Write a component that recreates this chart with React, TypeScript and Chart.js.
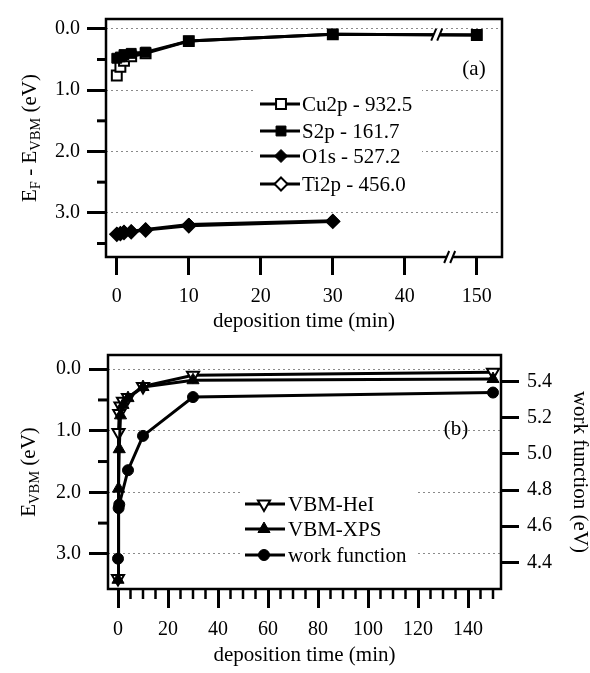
import React, { useEffect, useRef } from 'react';
import { Chart, registerables } from 'chart.js';

Chart.register(...registerables);

const FONT_FAMILY = "'Liberation Serif', 'Times New Roman', Times, serif";

// ---------- Panel (a) data ----------
const timeCu2p = [0, 0.5, 1, 2, 4, 10, 30, 150];
const cu2p = [0.76, 0.62, 0.52, 0.45, 0.4, 0.2, 0.09, 0.1];
const timeS2p = [0, 0.5, 1, 2, 4, 10, 30, 150];
const s2p = [0.48, 0.46, 0.42, 0.4, 0.38, 0.2, 0.09, 0.1];
const timeO1s = [0, 0.5, 1, 2, 4, 10, 30];
const o1s = [3.34, 3.33, 3.31, 3.3, 3.27, 3.19, 3.13];
const timeTi2p = [0, 0.5, 1, 2, 4, 10, 30];
const ti2p = [3.35, 3.34, 3.32, 3.31, 3.28, 3.21, 3.14];
const xTicksA = [0, 10, 20, 30, 40, 150];
const yTicksA = [0, 1, 2, 3];
const yMinorA = [0.5, 1.5, 2.5, 3.5];
const legendLabelsA = ['Cu2p - 932.5', 'S2p - 161.7', 'O1s - 527.2', 'Ti2p - 456.0'];
const breakAbove = 45; // times above this are drawn after the axis break
const breakGap = 100; // minutes skipped by the axis break

// ---------- Panel (b) data ----------
const timeHeI = [0, 0.2, 0.5, 1, 2, 4, 10, 30, 150];
const vbmHeI = [3.4, 1.03, 0.72, 0.6, 0.52, 0.46, 0.28, 0.1, 0.05];
const timeXPS = [0, 0.2, 0.5, 1, 2, 4, 10, 30, 150];
const vbmXPS = [3.42, 1.94, 1.3, 0.75, 0.58, 0.47, 0.29, 0.18, 0.16];
const timeWF = [0, 0.25, 0.5, 4, 10, 30, 150];
const workFunction = [4.42, 4.7, 4.72, 4.91, 5.1, 5.315, 5.34];
const xTicksB = [0, 20, 40, 60, 80, 100, 120, 140];
const xMinorB = [5, 10, 15, 25, 30, 35, 45, 50, 55, 65, 70, 75, 85, 90, 95, 105, 110, 115, 125, 130, 135, 145, 150];
const yTicksB = [0, 1, 2, 3];
const yMinorB = [0.5, 1.5, 2.5];
const y2TicksB = [4.4, 4.6, 4.8, 5.0, 5.2, 5.4];
const legendLabelsB = ['VBM-HeI', 'VBM-XPS', 'work function'];

type Mk = { shape: string; r: number; filled: boolean; rot?: number };

const MK_CU: Mk = { shape: 'rect', r: 7, filled: false };
const MK_S: Mk = { shape: 'rect', r: 7, filled: true };
const MK_O: Mk = { shape: 'rectRot', r: 6.5, filled: true };
const MK_TI: Mk = { shape: 'rectRot', r: 6.5, filled: false };
const MK_HEI: Mk = { shape: 'triangle', r: 7, filled: false, rot: 180 };
const MK_XPS: Mk = { shape: 'triangle', r: 7, filled: true };
const MK_WF: Mk = { shape: 'circle', r: 5.5, filled: true };

const mapA = (t: number) => (t > breakAbove ? t - breakGap : t);

function pts(times: number[], vals: number[], map: (t: number) => number = (t) => t) {
  return times.map((t, i) => ({ x: map(t), y: vals[i] }));
}

function ds(label: string, data: any[], mk: Mk, extra: any = {}) {
  return {
    label,
    data,
    borderColor: '#000',
    borderWidth: 3,
    tension: 0,
    pointStyle: mk.shape,
    pointRadius: mk.r,
    pointHoverRadius: mk.r,
    pointRotation: mk.rot || 0,
    pointBackgroundColor: mk.filled ? '#000' : '#fff',
    pointBorderColor: '#000',
    pointBorderWidth: mk.filled ? 1 : 2,
    ...extra,
  };
}

function drawMarker(ctx: CanvasRenderingContext2D, mk: Mk, x: number, y: number) {
  const r = mk.r;
  ctx.save();
  ctx.beginPath();
  if (mk.shape === 'rect') {
    const h = r * Math.SQRT1_2;
    ctx.rect(x - h, y - h, 2 * h, 2 * h);
  } else if (mk.shape === 'rectRot') {
    ctx.moveTo(x, y - r);
    ctx.lineTo(x + r, y);
    ctx.lineTo(x, y + r);
    ctx.lineTo(x - r, y);
    ctx.closePath();
  } else if (mk.shape === 'triangle') {
    let a = ((mk.rot || 0) * Math.PI) / 180;
    for (let k = 0; k < 3; k++) {
      const px = x + Math.sin(a) * r;
      const py = y - Math.cos(a) * r;
      if (k === 0) ctx.moveTo(px, py);
      else ctx.lineTo(px, py);
      a += (2 * Math.PI) / 3;
    }
    ctx.closePath();
  } else {
    ctx.arc(x, y, r, 0, Math.PI * 2);
  }
  ctx.fillStyle = mk.filled ? '#000' : '#fff';
  ctx.fill();
  ctx.lineWidth = mk.filled ? 1 : 2;
  ctx.strokeStyle = '#000';
  ctx.stroke();
  ctx.restore();
}

function drawLegend(
  ctx: CanvasRenderingContext2D,
  labels: string[],
  marks: Mk[],
  box: [number, number, number, number],
  x1: number,
  x2: number,
  mx: number,
  tx: number,
  rows: number[]
) {
  ctx.save();
  ctx.fillStyle = '#fff';
  ctx.fillRect(box[0], box[1], box[2], box[3]);
  labels.forEach((lab, i) => {
    const y = rows[i];
    ctx.strokeStyle = '#000';
    ctx.lineWidth = 3;
    ctx.beginPath();
    ctx.moveTo(x1, y);
    ctx.lineTo(x2, y);
    ctx.stroke();
    drawMarker(ctx, marks[i], mx, y);
    ctx.fillStyle = '#000';
    ctx.font = `21px ${FONT_FAMILY}`;
    ctx.textBaseline = 'alphabetic';
    ctx.textAlign = 'left';
    ctx.fillText(lab, tx, y + 7);
  });
  ctx.restore();
}

function drawFrame(chart: any) {
  const { ctx, chartArea: a } = chart;
  ctx.save();
  ctx.strokeStyle = '#000';
  ctx.lineWidth = 2.5;
  ctx.strokeRect(a.left, a.top, a.right - a.left, a.bottom - a.top);
  ctx.restore();
}

function minorY(chart: any, scaleId: string, values: number[], len: number) {
  const s = chart.scales[scaleId];
  const ctx = chart.ctx;
  ctx.save();
  ctx.strokeStyle = '#000';
  ctx.lineWidth = 3;
  values.forEach((v) => {
    const y = s.getPixelForValue(v);
    ctx.beginPath();
    ctx.moveTo(s.right - len, y);
    ctx.lineTo(s.right, y);
    ctx.stroke();
  });
  ctx.restore();
}

function minorX(chart: any, scaleId: string, values: number[], len: number) {
  const s = chart.scales[scaleId];
  const ctx = chart.ctx;
  ctx.save();
  ctx.strokeStyle = '#000';
  ctx.lineWidth = 2.5;
  values.forEach((v) => {
    const x = s.getPixelForValue(v);
    ctx.beginPath();
    ctx.moveTo(x, s.top);
    ctx.lineTo(x, s.top + len);
    ctx.stroke();
  });
  ctx.restore();
}

function drawBreak(ctx: CanvasRenderingContext2D, x: number, y: number) {
  ctx.save();
  ctx.fillStyle = '#fff';
  ctx.beginPath();
  ctx.moveTo(x - 6, y + 6);
  ctx.lineTo(x - 1, y - 6);
  ctx.lineTo(x + 5, y - 6);
  ctx.lineTo(x, y + 6);
  ctx.closePath();
  ctx.fill();
  ctx.strokeStyle = '#000';
  ctx.lineWidth = 2;
  ctx.beginPath();
  ctx.moveTo(x - 6, y + 6);
  ctx.lineTo(x - 1, y - 6);
  ctx.moveTo(x, y + 6);
  ctx.lineTo(x + 5, y - 6);
  ctx.stroke();
  ctx.restore();
}

type Seg = { t: string; sub?: boolean };

function drawRotatedTitle(ctx: CanvasRenderingContext2D, segs: Seg[], cx: number, cy: number) {
  const big = `21px ${FONT_FAMILY}`;
  const small = `14.5px ${FONT_FAMILY}`;
  ctx.save();
  let total = 0;
  segs.forEach((s) => {
    ctx.font = s.sub ? small : big;
    total += ctx.measureText(s.t).width;
  });
  ctx.translate(cx, cy);
  ctx.rotate(-Math.PI / 2);
  ctx.fillStyle = '#000';
  ctx.textBaseline = 'alphabetic';
  ctx.textAlign = 'left';
  let x = -total / 2;
  segs.forEach((s) => {
    ctx.font = s.sub ? small : big;
    ctx.fillText(s.t, x, s.sub ? 11 : 7);
    x += ctx.measureText(s.t).width;
  });
  ctx.restore();
}

function drawText(ctx: CanvasRenderingContext2D, t: string, x: number, y: number) {
  ctx.save();
  ctx.font = `21px ${FONT_FAMILY}`;
  ctx.fillStyle = '#000';
  ctx.textAlign = 'center';
  ctx.textBaseline = 'middle';
  ctx.fillText(t, x, y);
  ctx.restore();
}

const tickFont = { family: FONT_FAMILY, size: 20 };
const titleFont = { family: FONT_FAMILY, size: 21 };

function configA(): any {
  return {
    type: 'line',
    data: {
      datasets: [
        ds('S2p', pts(timeS2p, s2p, mapA), MK_S),
        ds('Cu2p', pts(timeCu2p, cu2p, mapA), MK_CU),
        ds('O1s', pts(timeO1s, o1s, mapA), MK_O),
        ds('Ti2p', pts(timeTi2p, ti2p, mapA), MK_TI),
      ],
    },
    options: {
      animation: false,
      responsive: true,
      maintainAspectRatio: false,
      events: [],
      layout: { padding: { left: 0, right: 88, top: 10, bottom: 0 } },
      plugins: { legend: { display: false }, tooltip: { enabled: false } },
      scales: {
        x: {
          type: 'linear',
          min: -1.5,
          max: 53.5,
          afterBuildTicks: (s: any) => {
            s.ticks = xTicksA.map((v) => ({ value: mapA(v) }));
          },
          afterFit: (s: any) => {
            s.height = 78;
          },
          grid: { drawOnChartArea: false, tickLength: 18, tickWidth: 3, tickColor: '#000' },
          border: { display: false },
          ticks: {
            padding: 10,
            font: tickFont,
            color: '#000',
            autoSkip: false,
            maxRotation: 0,
            callback: (_v: any, i: number) => String(xTicksA[i]),
          },
          title: {
            display: true,
            text: 'deposition time (min)',
            font: titleFont,
            color: '#000',
            padding: { top: 0, bottom: 1 },
          },
        },
        y: {
          type: 'linear',
          reverse: true,
          min: -0.16,
          max: 3.72,
          afterBuildTicks: (s: any) => {
            s.ticks = yTicksA.map((v) => ({ value: v }));
          },
          afterFit: (s: any) => {
            s.width = 106;
          },
          grid: { color: '#8a8a8a', lineWidth: 1, tickLength: 19, tickWidth: 3, tickColor: '#000' },
          border: { display: false, dash: [2, 3] },
          ticks: {
            padding: 7,
            font: tickFont,
            color: '#000',
            callback: (v: any) => Number(v).toFixed(1),
          },
        },
      },
    },
    plugins: [
      {
        id: 'decorA',
        afterDraw: (chart: any) => {
          const ctx = chart.ctx;
          const a = chart.chartArea;
          const xs = chart.scales.x;
          const ys = chart.scales.y;
          drawLegend(
            ctx,
            legendLabelsA,
            [MK_CU, MK_S, MK_O, MK_TI],
            [256, a.top + 70, 166, 110],
            260,
            300,
            281,
            302,
            [a.top + 85, a.top + 112, a.top + 137, a.top + 165]
          );
          minorY(chart, 'y', yMinorA, 9);
          drawFrame(chart);
          drawBreak(ctx, xs.getPixelForValue(46.3), a.bottom);
          drawBreak(ctx, xs.getPixelForValue(44.5), ys.getPixelForValue(0.095));
          drawText(ctx, '(a)', a.right - 28, a.top + 50);
          drawRotatedTitle(
            ctx,
            [{ t: 'E' }, { t: 'F', sub: true }, { t: ' - E' }, { t: 'VBM', sub: true }, { t: ' (eV)' }],
            29,
            (a.top + a.bottom) / 2
          );
        },
      },
    ],
  };
}

function configB(): any {
  return {
    type: 'line',
    data: {
      datasets: [
        ds('VBM-XPS', pts(timeXPS, vbmXPS), MK_XPS, { yAxisID: 'y' }),
        ds('VBM-HeI', pts(timeHeI, vbmHeI), MK_HEI, { yAxisID: 'y' }),
        ds('work function', pts(timeWF, workFunction), MK_WF, { yAxisID: 'y2' }),
      ],
    },
    options: {
      animation: false,
      responsive: true,
      maintainAspectRatio: false,
      events: [],
      layout: { padding: { left: 0, right: 0, top: 9, bottom: 0 } },
      plugins: { legend: { display: false }, tooltip: { enabled: false } },
      scales: {
        x: {
          type: 'linear',
          min: -4,
          max: 153.2,
          afterBuildTicks: (s: any) => {
            s.ticks = xTicksB.map((v) => ({ value: v }));
          },
          afterFit: (s: any) => {
            s.height = 84;
          },
          grid: { drawOnChartArea: false, tickLength: 19, tickWidth: 3, tickColor: '#000' },
          border: { display: false },
          ticks: {
            padding: 10,
            font: tickFont,
            color: '#000',
            autoSkip: false,
            maxRotation: 0,
            callback: (v: any) => String(v),
          },
          title: {
            display: true,
            text: 'deposition time (min)',
            font: titleFont,
            color: '#000',
            padding: { top: 0, bottom: 5 },
          },
        },
        y: {
          type: 'linear',
          position: 'left',
          reverse: true,
          min: -0.23,
          max: 3.57,
          afterBuildTicks: (s: any) => {
            s.ticks = yTicksB.map((v) => ({ value: v }));
          },
          afterFit: (s: any) => {
            s.width = 108;
          },
          grid: { color: '#8a8a8a', lineWidth: 1, tickLength: 19, tickWidth: 3, tickColor: '#000' },
          border: { display: false, dash: [2, 3] },
          ticks: {
            padding: 8,
            font: tickFont,
            color: '#000',
            callback: (v: any) => Number(v).toFixed(1),
          },
        },
        y2: {
          type: 'linear',
          position: 'right',
          min: 4.252,
          max: 5.548,
          afterBuildTicks: (s: any) => {
            s.ticks = y2TicksB.map((v) => ({ value: v }));
          },
          afterFit: (s: any) => {
            s.width = 89;
          },
          grid: { drawOnChartArea: false, tickLength: 18, tickWidth: 3, tickColor: '#000' },
          border: { display: false },
          ticks: {
            padding: 8,
            font: tickFont,
            color: '#000',
            callback: (v: any) => Number(v).toFixed(1),
          },
          title: {
            display: true,
            text: 'work function (eV)',
            font: { family: FONT_FAMILY, size: 21, lineHeight: 1 },
            color: '#000',
            padding: { top: 0, bottom: 0 },
          },
        },
      },
    },
    plugins: [
      {
        id: 'decorB',
        afterDraw: (chart: any) => {
          const ctx = chart.ctx;
          const a = chart.chartArea;
          drawLegend(
            ctx,
            legendLabelsB,
            [MK_HEI, MK_XPS, MK_WF],
            [242, a.top + 132, 176, 84],
            245,
            285,
            264,
            288,
            [a.top + 149, a.top + 174, a.top + 200]
          );
          minorY(chart, 'y', yMinorB, 10);
          minorX(chart, 'x', xMinorB, 10);
          drawFrame(chart);
          drawText(ctx, '(b)', a.right - 45, a.top + 74);
          drawRotatedTitle(ctx, [{ t: 'E' }, { t: 'VBM', sub: true }, { t: ' (eV)' }], 28, (a.top + a.bottom) / 2);
        },
      },
    ],
  };
}

export default function App() {
  const refA = useRef<HTMLCanvasElement>(null);
  const refB = useRef<HTMLCanvasElement>(null);
  useEffect(() => {
    const a = new Chart(refA.current as HTMLCanvasElement, configA());
    const b = new Chart(refB.current as HTMLCanvasElement, configB());
    return () => {
      a.destroy();
      b.destroy();
    };
  }, []);
  return (
    <div style={{ position: 'fixed', left: 0, top: 0, width: 590, height: 673, background: '#fff' }}>
      <div style={{ position: 'absolute', left: 0, top: 0, width: 590, height: 335 }}>
        <canvas ref={refA} />
      </div>
      <div style={{ position: 'absolute', left: 0, top: 335, width: 590, height: 338 }}>
        <canvas ref={refB} />
      </div>
    </div>
  );
}
